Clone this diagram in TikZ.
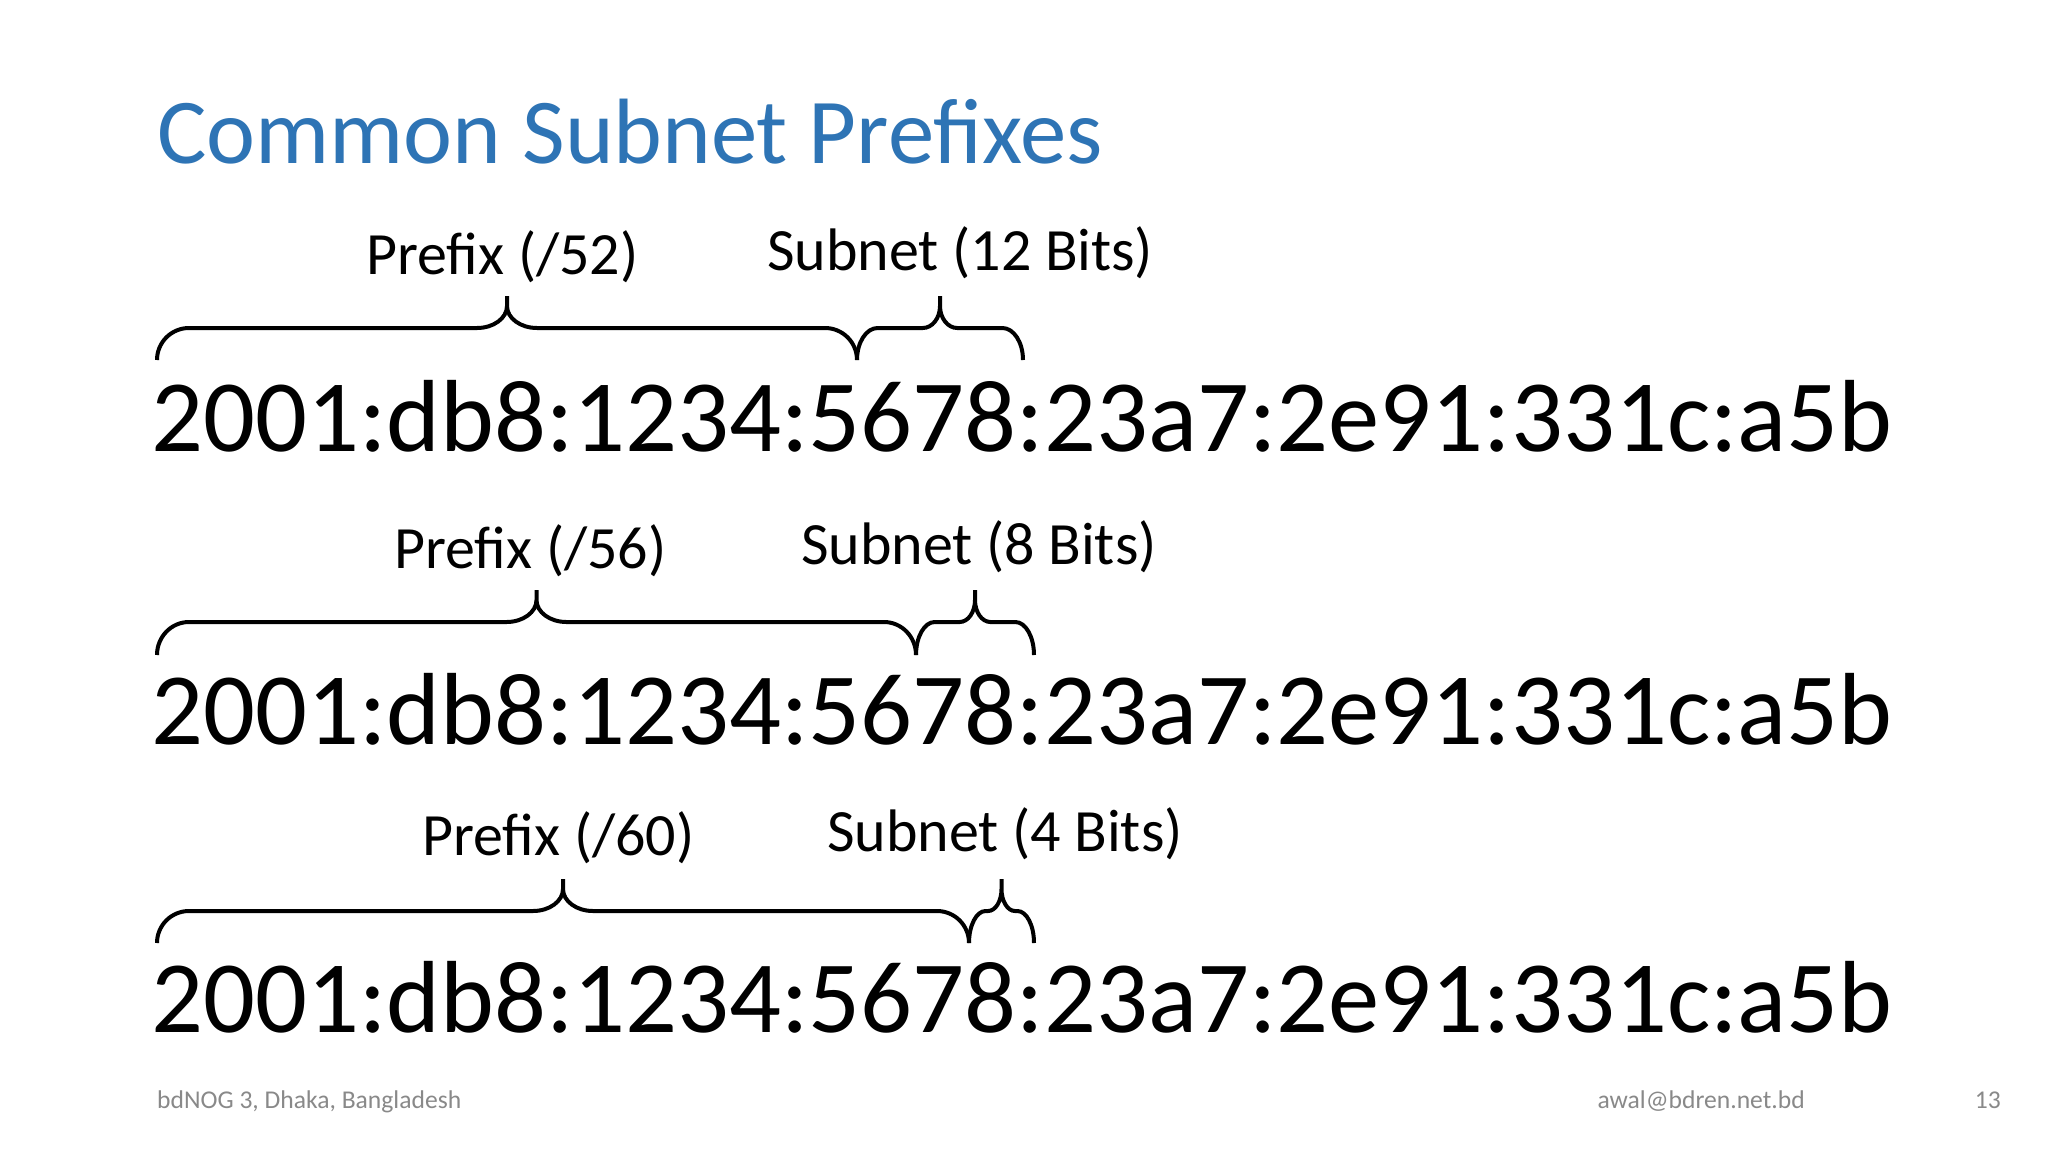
\documentclass[tikz,border=0pt]{standalone}
\usepackage{fontspec}
\setmainfont{Carlito}
\definecolor{titleblue}{RGB}{46,116,181}
\definecolor{footgray}{RGB}{137,137,137}
% #1 left x, #2 right x, #3 bottom y of ends, #4 y of the long line, #5 y of the tip
\newcommand\mybrace[5]{%
  \pgfmathsetmacro\bM{(#1+#2)/2}%
  \pgfmathsetmacro\bh{(#2-#1)/2}%
  \pgfmathsetmacro\rEnd{min(32,14+\bh*0.08)}%
  \pgfmathsetmacro\rTip{min(30,11+\bh*0.075)}%
  \pgfmathsetmacro\hEnd{#3-#4}%
  \pgfmathsetmacro\tA{22}%
  \draw[bracestyle]
    (#1,#3) .. controls (#1,{#3-0.5523*\hEnd}) and ({#1+\rEnd-0.5523*\rEnd},#4) .. ({#1+\rEnd},#4)
    -- ({\bM-\rTip},#4)
    .. controls ({\bM-\rTip+0.5523*\rTip},#4) and (\bM,{#4-\tA+0.5523*\tA}) .. (\bM,{#4-\tA})
    -- (\bM,#5) -- (\bM,{#4-\tA})
    .. controls (\bM,{#4-\tA+0.5523*\tA}) and ({\bM+\rTip-0.5523*\rTip},#4) .. ({\bM+\rTip},#4)
    -- ({#2-\rEnd},#4)
    .. controls ({#2-\rEnd+0.5523*\rEnd},#4) and (#2,{#3-0.5523*\hEnd}) .. (#2,#3);%
}
\begin{document}
\begin{tikzpicture}[x=1pt,y=-1pt,
  bracestyle/.style={line width=4pt,black,line cap=butt,line join=miter},
  addr/.style={anchor=base west,inner sep=0pt,font=\fontsize{102.5}{110}\selectfont},
  lbl/.style={anchor=base west,inner sep=0pt,font=\fontsize{60}{70}\selectfont},
  foot/.style={inner sep=0pt,text=footgray,font=\fontsize{25.6}{30}\selectfont}]
\useasboundingbox[fill=white] (0,0) rectangle (2048,1152);
\node[anchor=base west,inner sep=0pt,text=titleblue,font=\fontsize{92.8}{100}\selectfont] (title) at (157,163) {Common Subnet Prefixes};
% row 1
\node[lbl] (p1) at (366,274) {Prefix (/52)};
\node[lbl] (s1) at (767,270) {Subnet (12 Bits)};
\mybrace{157}{857}{360}{328}{296}
\mybrace{857}{1023}{360}{328}{296}
\node[addr] (a1) at (151,451) {2001:db8:1234:5678:23a7:2e91:331c:a5b};
% row 2
\node[lbl] (p2) at (394,568) {Prefix (/56)};
\node[lbl] (s2) at (801,564) {Subnet (8 Bits)};
\mybrace{157}{916}{655}{622}{590}
\mybrace{916}{1034}{655}{622}{590}
\node[addr] (a2) at (151,744) {2001:db8:1234:5678:23a7:2e91:331c:a5b};
% row 3
\node[lbl] (p3) at (422,855) {Prefix (/60)};
\node[lbl] (s3) at (827,851) {Subnet (4 Bits)};
\mybrace{157}{969}{943}{911}{879}
\mybrace{969}{1034}{943}{911}{879}
\node[addr] (a3) at (151,1032) {2001:db8:1234:5678:23a7:2e91:331c:a5b};
% footer
\node[foot,anchor=base west] (f1) at (157,1108) {bdNOG 3, Dhaka, Bangladesh};
\node[foot,anchor=base east] (f2) at (1805,1108) {awal@bdren.net.bd};
\node[foot,anchor=base east] (f3) at (2001,1108) {13};
\end{tikzpicture}
\end{document}
